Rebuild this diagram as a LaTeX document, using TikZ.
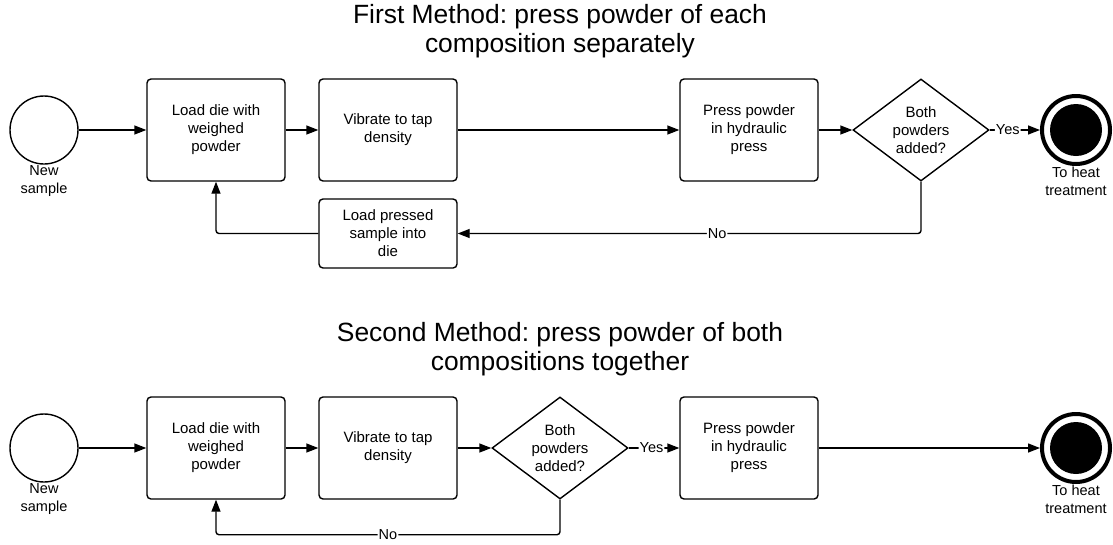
\documentclass[tikz,border=0pt]{standalone}
\usepackage{fontspec}
\setmainfont{Liberation Sans}
\usetikzlibrary{arrows.meta,shapes.geometric}
\frenchspacing
\begin{document}
\begin{tikzpicture}[x=1pt,y=-1pt,
  every node/.style={inner sep=0pt},
  stepbox/.style={draw,line width=1.4pt,rounded corners=4pt,minimum width=138pt,minimum height=102pt,align=center,font=\fontsize{15}{18}\selectfont},
  smallbox/.style={stepbox,minimum height=69pt},
  choice/.style={draw,line width=1.4pt,shape=diamond,aspect=1.333,minimum width=136pt,minimum height=102pt,align=center,font=\fontsize{15}{18}\selectfont},
  startev/.style={draw,line width=1.4pt,circle,minimum size=68pt},
  endev/.style={draw,line width=4pt,circle,minimum size=68pt},
  evlabel/.style={below,align=center,font=\fontsize{14.5}{18}\selectfont,inner sep=1pt},
  title/.style={align=center,font=\fontsize{26.4}{29}\selectfont},
  arr/.style={line width=1.4pt,rounded corners=3pt,-{Triangle[length=12pt,width=9pt]}},
  lbl/.style={fill=white,inner sep=1pt,font=\fontsize{14.5}{17}\selectfont}]
\useasboundingbox (0,0) rectangle (1113,544);

% ---------- First method ----------
\node[title] (t1) at (560,31.5) {First Method: press powder of each\\composition separately};
\node[startev] (s1) at (44,130) {};
\node[evlabel] (s1l) at (s1.south) {New\\sample};
\node[stepbox] (b1) at (216,130) {Load die with\\weighed\\powder};
\node[stepbox] (b2) at (388,130) {Vibrate to tap\\density};
\node[stepbox] (b3) at (749,130) {Press powder\\in hydraulic\\press};
\node[choice] (d1) at (921,130) {Both\\powders\\added?};
\node[endev] (e1) at (1076,130) {};
\fill (e1.center) circle (26);
\node[evlabel] (e1l) at (e1.south) {To heat\\treatment};
\node[smallbox] (b4) at (388,233.5) {Load pressed\\sample into\\die};

\draw[arr] (s1.east) -- (b1.west);
\draw[arr] (b1.east) -- (b2.west);
\draw[arr] (b2.east) -- (b3.west);
\draw[arr] (b3.east) -- (d1.west);
\draw[arr] (d1.east) -- node[lbl,pos=0.36]{Yes} (e1.west);
\draw[arr] (d1.south) |- node[lbl,pos=0.72]{No} (b4.east);
\draw[arr] (b4.west) -| (b1.south);

% ---------- Second method ----------
\node[title] (t2) at (560,349.5) {Second Method: press powder of both\\compositions together};
\node[startev] (s2) at (44,448) {};
\node[evlabel] (s2l) at (s2.south) {New\\sample};
\node[stepbox] (b5) at (216,448) {Load die with\\weighed\\powder};
\node[stepbox] (b6) at (388,448) {Vibrate to tap\\density};
\node[choice] (d2) at (560,448) {Both\\powders\\added?};
\node[stepbox] (b7) at (749,448) {Press powder\\in hydraulic\\press};
\node[endev] (e2) at (1076,448) {};
\fill (e2.center) circle (26);
\node[evlabel] (e2l) at (e2.south) {To heat\\treatment};

\draw[arr] (s2.east) -- (b5.west);
\draw[arr] (b5.east) -- (b6.west);
\draw[arr] (b6.east) -- (d2.west);
\draw[arr] (d2.east) -- node[lbl,pos=0.45]{Yes} (b7.west);
\draw[arr] (b7.east) -- (e2.west);
\draw[arr] (d2.south) -- ++(0,35) -| node[lbl,pos=0.25]{No} (b5.south);
\end{tikzpicture}
\end{document}
